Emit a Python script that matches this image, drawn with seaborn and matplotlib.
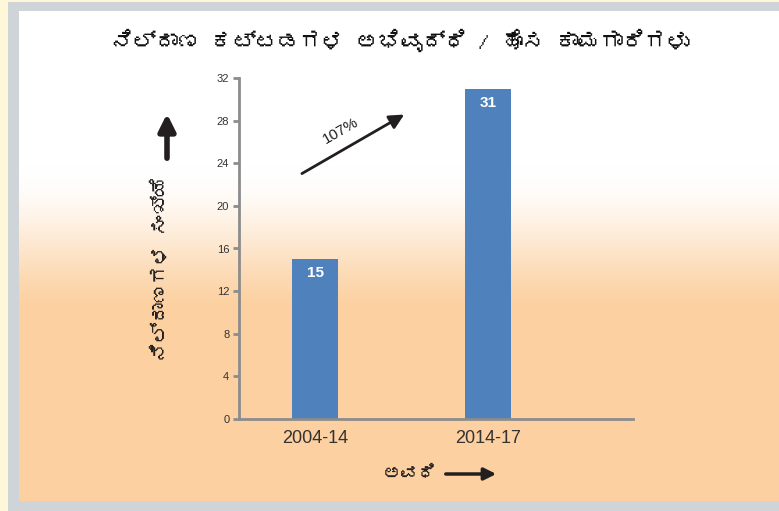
import numpy as np
import pandas as pd
import matplotlib
matplotlib.use("Agg")
import matplotlib.pyplot as plt
import matplotlib.font_manager as fm
from matplotlib.ft2font import FT2Font
import seaborn as sns

# data
periods = ["2004-14", "2014-17"]
stations = [15, 31]
growth_label = "107%"
title_text = "ನಿಲ್ದಾಣ ಕಟ್ಟಡಗಳ ಅಭಿವೃದ್ಧಿ / ಹೊಸ ಕಾಮಗಾರಿಗಳು"
ylabel_text = "ನಿಲ್ದಾಣಗಳ ಸಂಖ್ಯೆ"
xlabel_text = "ಅವಧಿ"
yticks = [0, 4, 8, 12, 16, 20, 24, 28, 32]

sns.set_style("ticks")

# look for any installed font that has Kannada glyphs
kn_family = None
for f in fm.fontManager.ttflist:
    try:
        if 0x0C95 in FT2Font(f.fname).get_charmap():
            kn_family = f.name
            break
    except Exception:
        pass
kn_fonts = ([kn_family] if kn_family else []) + ["DejaVu Sans"]
plt.rcParams["font.family"] = ["Liberation Sans", "DejaVu Sans"]

W, H = 779, 511
fig = plt.figure(figsize=(W / 100, H / 100), dpi=100, facecolor="#FEF8D8")

# background: grey frame + white-to-peach gradient panel
bg = fig.add_axes([0, 0, 1, 1], zorder=-5)
bg.axis("off")
bg.add_patch(plt.Rectangle((8, 2), W - 8, H - 2, color="#CFD4D8", lw=0, zorder=0))
peach = np.array([252, 208, 160]) / 255
rows = np.arange(11, 501)
t = np.clip((rows - 165) / (330 - 165), 0, 1)
t = t * t * (3 - 2 * t)
t = np.clip(t * 1.05, 0, 1)
grad = (1 - t[:, None]) * np.ones(3) + t[:, None] * peach
bg.imshow(grad[:, None, :], extent=(19, W, 501, 11), aspect="auto", zorder=1)
bg.set_xlim(0, W)
bg.set_ylim(H, 0)

ax = fig.add_axes([239 / W, 1 - 419 / H, (633 - 239) / W, (419 - 78) / H])
ax.patch.set_alpha(0)
df = pd.DataFrame({"period": periods, "stations": stations})
sns.barplot(data=df, x="period", y="stations", color="#4F81BD", width=0.27,
            saturation=1, linewidth=0, ax=ax)

ax.set_xlim(-0.44, 1.84)
ax.set_ylim(0, 32)
ax.set_yticks(yticks)
ax.set_xlabel("")
ax.set_ylabel("")
sns.despine(ax=ax)
for s in ["left", "bottom"]:
    ax.spines[s].set_color("#8C8C8C")
    ax.spines[s].set_linewidth(2)
ax.tick_params(axis="y", length=4, width=2, color="#8C8C8C", labelsize=8,
               labelcolor="#333333", pad=3)
ax.tick_params(axis="x", length=0, labelsize=13, labelcolor="#333333", pad=8)

for i, v in enumerate(stations):
    ax.text(i, v - 1.3, str(v), ha="center", va="center", color="white",
            fontsize=11, fontweight="bold")

# growth arrow
ax.annotate("", xy=(0.53, 28.7), xytext=(-0.09, 22.9),
            arrowprops=dict(arrowstyle="-|>", lw=2, color="#231F20",
                            mutation_scale=22))
ax.text(0.15, 27.0, growth_label, rotation=30, ha="center", va="center",
        fontsize=11, color="#231F20")

fig.text(400 / W, 1 - 40 / H, title_text, ha="center", va="center",
         fontsize=16, fontweight="bold", color="#111111", family=kn_fonts)
fig.text(160 / W, 1 - 268 / H, ylabel_text, ha="center", va="center",
         rotation=90, fontsize=14, fontweight="bold", color="#231F20",
         family=kn_fonts)
fig.text(410 / W, 1 - 474 / H, xlabel_text, ha="center", va="center",
         fontsize=13, fontweight="bold", color="#231F20", family=kn_fonts)

# axis direction arrows
bg.annotate("", xy=(167, 111), xytext=(167, 161),
            arrowprops=dict(arrowstyle="-|>", lw=4, color="#231F20",
                            mutation_scale=25), zorder=3)
bg.annotate("", xy=(499, 474), xytext=(443, 474),
            arrowprops=dict(arrowstyle="-|>", lw=2.5, color="#231F20",
                            mutation_scale=18), zorder=3)

fig.savefig("out.png", dpi=100, facecolor=fig.get_facecolor())
